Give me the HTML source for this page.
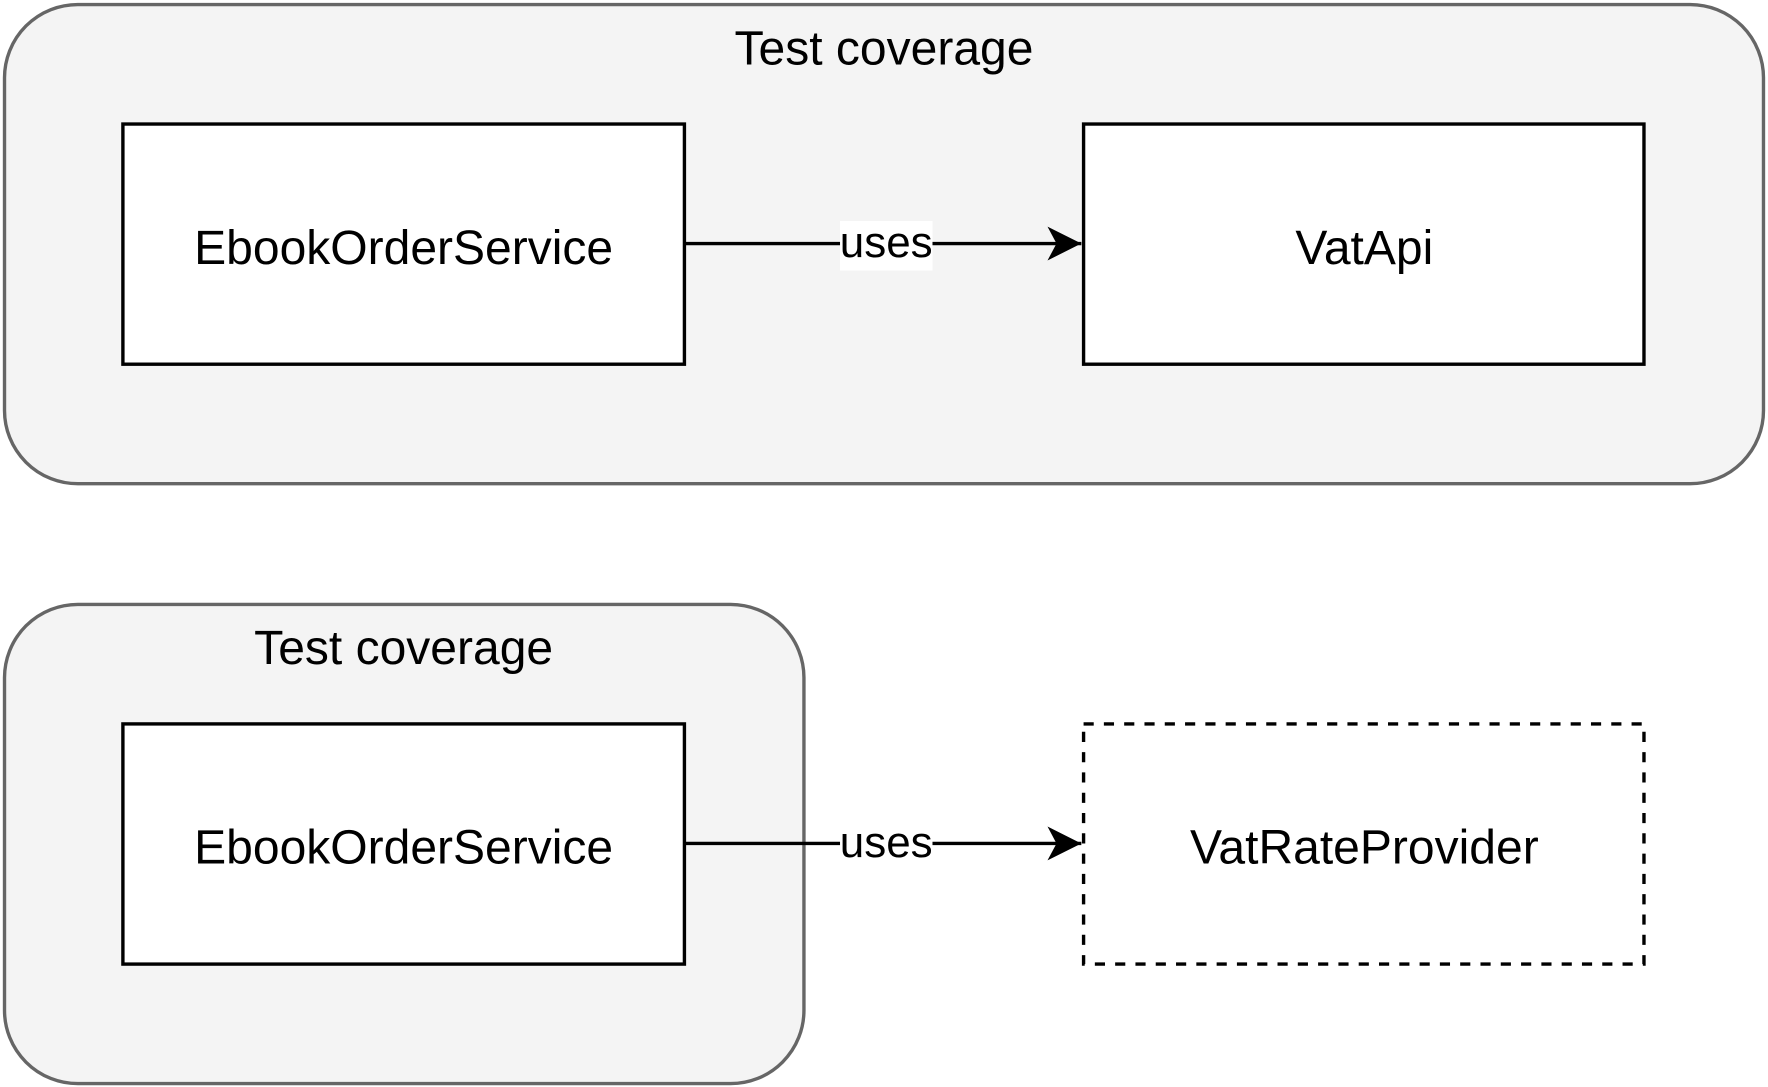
<!DOCTYPE html>
<html><head><meta charset="utf-8"><style>
html,body{margin:0;padding:0;background:#fff;}
svg{display:block;}
text{font-family:"Liberation Sans",Arial,sans-serif;fill:#000;}
</style></head><body>
<svg width="1768" height="1087" viewBox="0 0 1568 964" preserveAspectRatio="none" xmlns="http://www.w3.org/2000/svg">
<defs>
<marker id="ah" markerWidth="34" markerHeight="34" refX="32" refY="17" orient="auto" markerUnits="userSpaceOnUse">
<path d="M2,2 L32,17 L2,32 L10,17 Z" fill="#000"/>
</marker>
</defs>
<rect x="4" y="4" width="1560" height="425" rx="65" ry="65" fill="#f4f4f4" stroke="#666" stroke-width="3"/>
<text x="784" y="57" font-size="42.6" text-anchor="middle">Test coverage</text>
<rect x="109" y="110" width="498" height="213" fill="#fff" stroke="#000" stroke-width="3"/>
<text x="358" y="234" font-size="42.6" text-anchor="middle">EbookOrderService</text>
<rect x="961" y="110" width="497" height="213" fill="#fff" stroke="#000" stroke-width="3"/>
<text x="1210" y="234" font-size="42.6" text-anchor="middle">VatApi</text>
<line x1="607" y1="216" x2="959" y2="216" stroke="#000" stroke-width="3" marker-end="url(#ah)"/>
<rect x="745" y="196" width="82" height="44" fill="#fff"/>
<text x="786" y="228" font-size="39" text-anchor="middle">uses</text>

<rect x="4" y="536" width="709" height="425" rx="65" ry="65" fill="#f4f4f4" stroke="#666" stroke-width="3"/>
<text x="358" y="589" font-size="42.6" text-anchor="middle">Test coverage</text>
<rect x="109" y="642" width="498" height="213" fill="#fff" stroke="#000" stroke-width="3"/>
<text x="358" y="766" font-size="42.6" text-anchor="middle">EbookOrderService</text>
<rect x="961" y="642" width="497" height="213" fill="#fff" stroke="#000" stroke-width="3" stroke-dasharray="9,9"/>
<text x="1210" y="766" font-size="42.6" text-anchor="middle">VatRateProvider</text>
<line x1="607" y1="748" x2="959" y2="748" stroke="#000" stroke-width="3" marker-end="url(#ah)"/>
<rect x="745" y="728" width="82" height="40" fill="#fff"/>
<text x="786" y="760" font-size="39" text-anchor="middle">uses</text>
</svg>
</body></html>
